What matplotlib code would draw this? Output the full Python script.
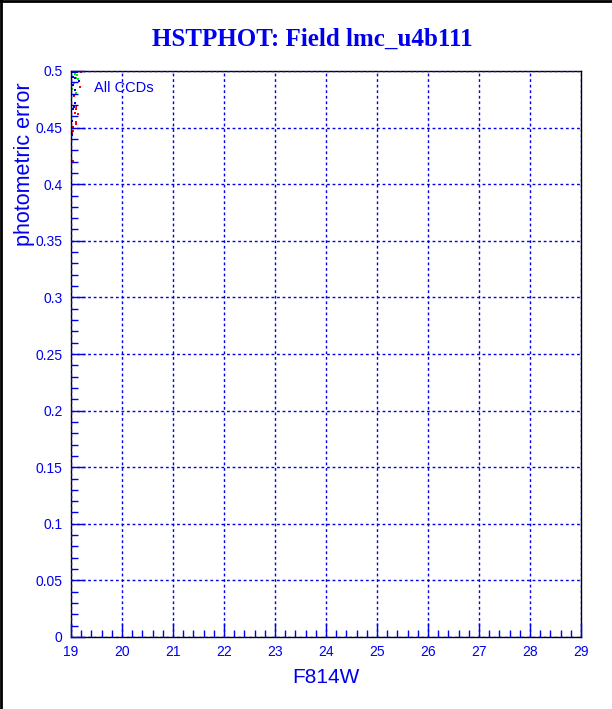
import matplotlib.pyplot as plt
import numpy as np
from matplotlib.lines import Line2D
from matplotlib.ticker import MultipleLocator

# points (F814W mag, photometric error)
red_x = [19.20, 19.18, 19.06, 19.10, 19.08, 19.10, 19.04, 19.14, 19.04, 19.10, 19.02, 19.10, 19.04]
red_y = [0.4991, 0.4859, 0.4779, 0.4681, 0.4629, 0.4664, 0.4469, 0.4620, 0.4505, 0.4549, 0.4452, 0.4533, 0.4205]
green_x = [19.08, 19.12, 19.10, 19.14, 19.06, 19.10, 19.02, 19.08, 19.12]
green_y = [0.4973, 0.4965, 0.4938, 0.4929, 0.4894, 0.4806, 0.4841, 0.4682, 0.4969]
blue_x = [19.04, 19.08, 19.12, 19.04, 19.08, 19.16, 19.04, 19.08, 19.06, 19.08, 19.04, 19.02, 19.06, 19.02]
blue_y = [0.4991, 0.4991, 0.4991, 0.4947, 0.4938, 0.4912, 0.4876, 0.4832, 0.4788, 0.4717, 0.4664, 0.4558, 0.4682, 0.4434]

blue = '#0000ee'
plt.rcParams['font.family'] = ['Liberation Sans', 'DejaVu Sans']

fig = plt.figure(figsize=(6.12, 7.09), dpi=100)
ax = fig.add_axes([71/612, 72/709, 510/612, 566/709])

ax.plot(red_x, red_y, 's', color='#ff0000', ms=2, mew=0, clip_on=False)
ax.plot(green_x, green_y, 's', color='#00ee00', ms=2, mew=0, clip_on=False)
ax.plot(blue_x, blue_y, 's', color=blue, ms=2, mew=0, clip_on=False)

ax.set_xlim(19, 29)
ax.set_ylim(0, 0.5)
ax.xaxis.set_major_locator(MultipleLocator(1))
ax.xaxis.set_minor_locator(MultipleLocator(0.2))
ax.yaxis.set_minor_locator(MultipleLocator(0.01))
ax.set_yticks(np.arange(0, 0.501, 0.05))
ax.set_yticklabels(['0', '0.05', '0.1', '0.15', '0.2', '0.25', '0.3', '0.35', '0.4', '0.45', '0.5'])

ax.tick_params(which='both', direction='in', colors=blue, labelcolor=blue,
               labelsize=10, top=False, right=False)
ax.tick_params(which='major', length=10, width=1)
ax.tick_params(which='minor', length=5, width=1)
ax.tick_params(axis='x', pad=6)
ax.tick_params(axis='y', pad=6)

for s in ax.spines.values():
    s.set_color('black')
    s.set_linewidth(1)

ax.grid(True, which='major', color=blue, linestyle=(0, (2, 2)), linewidth=1)
ax.set_axisbelow(False)

ax.set_xlabel('F814W', color=blue, fontsize=15)
ax.set_ylabel('photometric error', color=blue, fontsize=15.5)
ax.yaxis.set_label_coords(-0.07, 0.835)
ax.xaxis.set_label_coords(0.5, -0.055)

ax.text(0.045, 0.970, 'All CCDs', transform=ax.transAxes, color=blue, fontsize=10.5, va='center')

fig.text(0.51, 0.945, 'HSTPHOT: Field lmc_u4b111', color=blue, fontsize=18, fontweight='bold',
         family='Liberation Serif', ha='center', va='center')

# frame of the canvas (left and top edges)
fig.add_artist(Line2D([0.0015, 0.0015], [0, 1], transform=fig.transFigure, color='black', lw=2))
fig.add_artist(Line2D([0, 1], [0.9985, 0.9985], transform=fig.transFigure, color='black', lw=2))

fig.savefig('out.png', dpi=100)
